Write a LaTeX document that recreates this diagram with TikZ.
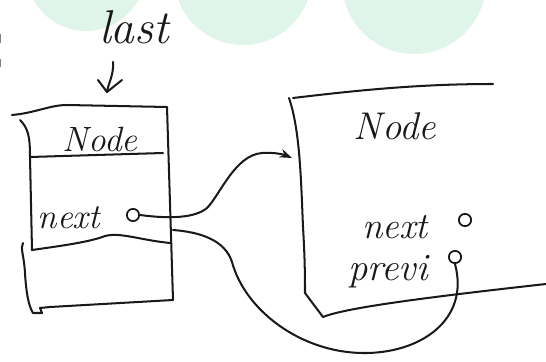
\documentclass[tikz,border=0pt]{standalone}
\usetikzlibrary{arrows.meta}
\definecolor{mint}{RGB}{224,245,233}
\definecolor{pen}{RGB}{25,25,25}
\tikzset{
  pencil/.style={draw=pen, line width=1.15pt, line cap=round, line join=round},
  lbl/.style={inner sep=0pt, text=pen, font=\itshape},
  ptr/.style={circle, draw=pen, line width=1pt, minimum size=7pt, inner sep=0pt},
}
\begin{document}
\begin{tikzpicture}[x=0.02cm, y=-0.02cm]
\useasboundingbox (0,0) rectangle (546,361);
\clip (0,0) rectangle (546,361);
% background circles
\fill[mint] (86,-29) circle (60);
\fill[mint] (243,-24) circle (69);
\fill[mint] (414,-18) circle (72);
% stray marks at left edge
\draw[gray, line width=1pt] (0.5,34) -- (0.5,43);
\draw[gray, line width=1pt] (0.5,59) -- (0.5,67);

% "last" pointer
\node[lbl, font=\itshape\fontsize{27}{30}\selectfont] (last) at (134,27) {last};
\coordinate (arrtop) at (113,62);
\coordinate (arrtip) at (107,92);
\draw[pencil] (arrtop) .. controls (114,75) and (108,84) .. (arrtip);
\draw[pencil] (98,80) -- (arrtip) -- (122,80);

% left node box
\draw[pencil] (12,115) .. controls (35,113) and (50,105) .. (67,105) -- (167,107) -- (173,300);
\draw[pencil] (20,120) .. controls (28,128) and (30,136) .. (30,157) -- (32,250);
\draw[pencil] (30,157) -- (163,153);
\draw[pencil] (32,250) .. controls (60,246) and (90,242) .. (105,236)
      .. controls (120,232) and (140,240) .. (170,243);
\draw[pencil] (23,243) .. controls (20,248) and (24,255) .. (25,273)
      .. controls (26,290) and (28,305) .. (33,313) -- (42,313) -- (40,308)
      -- (50,307) -- (173,300);
\node[lbl, font=\itshape\fontsize{20}{24}\selectfont] (lnode) at (100,139) {Node};
\node[lbl, font=\itshape\fontsize{20}{24}\selectfont] (lnext) at (69,218) {next};
\node[ptr] (lnextptr) at (133,215) {};

% right node box
\draw[pencil] (293,98) .. controls (360,90) and (420,84) .. (493,84);
\draw[pencil] (289,98) .. controls (300,130) and (301,180) .. (303,227)
      .. controls (305,260) and (305,280) .. (305,293) -- (323,317)
      .. controls (345,308) and (420,298) .. (546,284);
\node[lbl, font=\itshape\fontsize{22}{26}\selectfont] (rnode) at (395,126) {Node};
\node[lbl, font=\itshape\fontsize{21}{25}\selectfont] (rnext) at (395,227) {next};
\node[ptr] (rnextptr) at (465,220) {};
\node[lbl, font=\itshape\fontsize{22}{26}\selectfont] (rprev) at (388,272) {previ};
\node[ptr] (rprevptr) at (455,257) {};

% connectors
\coordinate (rin) at (292,158);
\draw[pencil, -{Stealth[length=7pt, width=5pt]}] (lnextptr.east)
      .. controls (170,219) and (195,218) .. (207,208)
      .. controls (220,195) and (235,155) .. (262,153)
      .. controls (275,152) and (285,155) .. (rin);
\coordinate (lout) at (173,230);
\draw[pencil] (lout) .. controls (200,232) and (225,240) .. (232,262)
      .. controls (245,310) and (300,352) .. (362,353)
      .. controls (420,354) and (470,320) .. (rprevptr.south);
\end{tikzpicture}
\end{document}
